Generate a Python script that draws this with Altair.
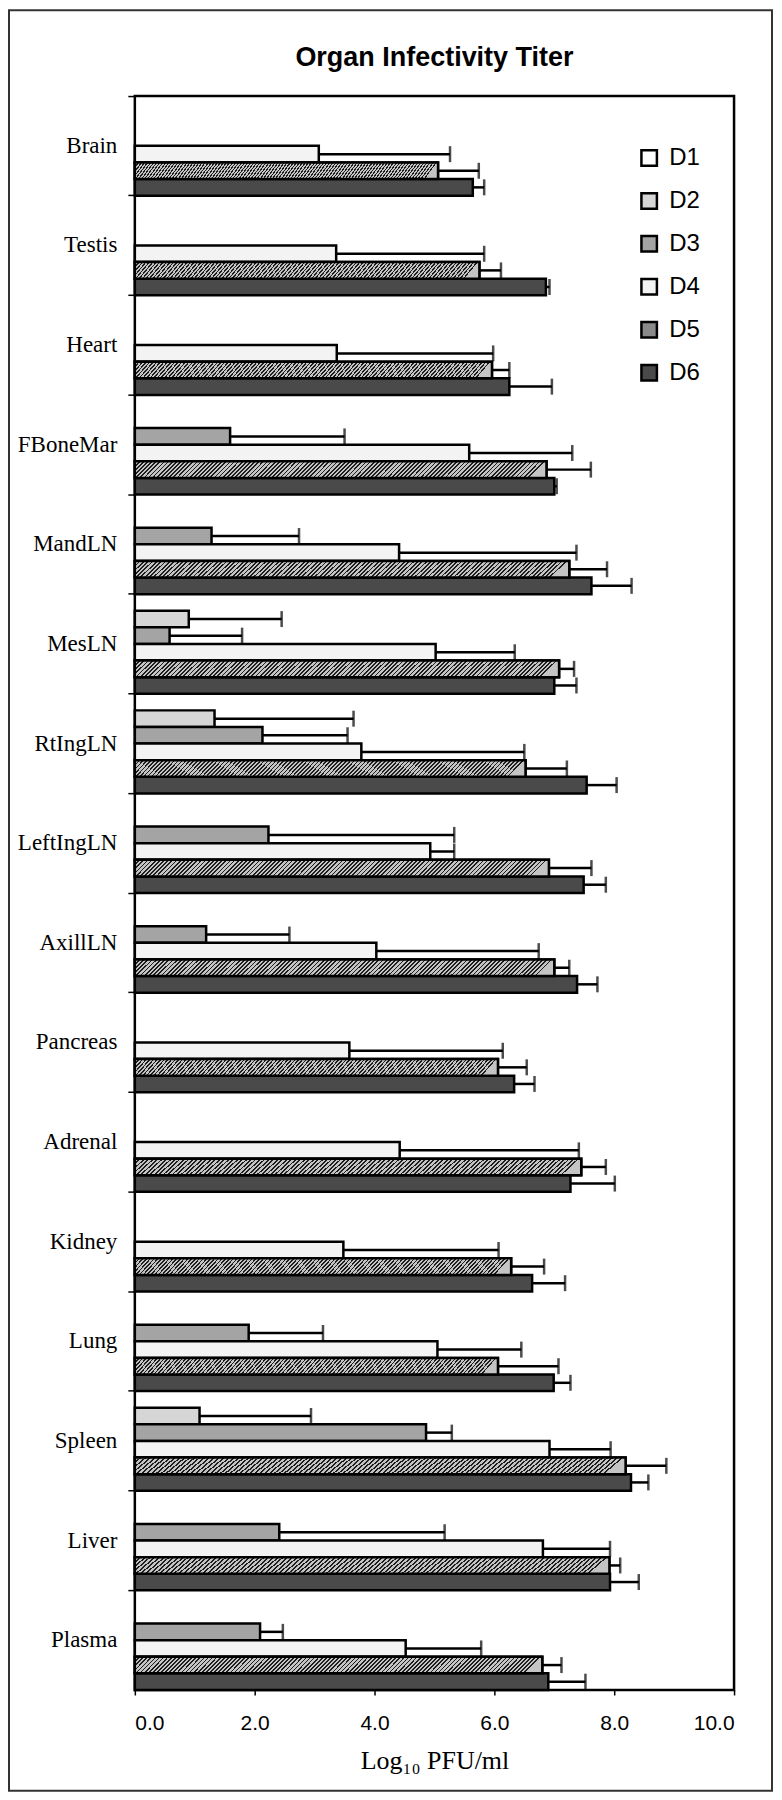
import altair as alt
import pandas as pd

organs = ["Brain", "Testis", "Heart", "FBoneMar", "MandLN", "MesLN", "RtIngLN",
          "LeftIngLN", "AxillLN", "Pancreas", "Adrenal", "Kidney", "Lung",
          "Spleen", "Liver", "Plasma"]
series = ["D1", "D2", "D3", "D4", "D5", "D6"]
x_ticks = [0, 2, 4, 6, 8, 10]

N = None
d1 = [N, N, N, N, N, N, N, N, N, N, N, N, N, N, N, N]
d1_sd = [N, N, N, N, N, N, N, N, N, N, N, N, N, N, N, N]
d2 = [N, N, N, N, N, 0.90, 1.33, N, N, N, N, N, N, 1.08, N, N]
d2_sd = [N, N, N, N, N, 1.55, 2.32, N, N, N, N, N, N, 1.86, N, N]
d3 = [N, N, N, 1.59, 1.28, 0.58, 2.13, 2.23, 1.19, N, N, N, 1.90, 4.86, 2.41, 2.09]
d3_sd = [N, N, N, 1.91, 1.46, 1.21, 1.42, 3.10, 1.39, N, N, N, 1.24, 0.43, 2.76, 0.38]
d4 = [3.07, 3.36, 3.37, 5.58, 4.41, 5.02, 3.78, 4.93, 4.03, 3.58, 4.42, 3.48, 5.05, 6.92, 6.81, 4.52]
d4_sd = [2.19, 2.47, 2.61, 1.72, 2.96, 1.32, 2.72, 0.40, 2.71, 2.56, 2.99, 2.59, 1.40, 1.02, 1.12, 1.26]
d5 = [5.06, 5.75, 5.96, 6.87, 7.25, 7.08, 6.52, 6.91, 7.00, 6.06, 7.45, 6.28, 6.06, 8.19, 7.92, 6.80]
d5_sd = [0.68, 0.36, 0.29, 0.74, 0.63, 0.25, 0.69, 0.71, 0.25, 0.48, 0.41, 0.55, 1.01, 0.68, 0.18, 0.32]
d6 = [5.64, 6.86, 6.25, 7.00, 7.62, 7.00, 7.54, 7.49, 7.38, 6.33, 7.27, 6.63, 6.99, 8.28, 7.93, 6.90]
d6_sd = [0.19, 0.06, 0.71, 0.04, 0.67, 0.37, 0.50, 0.37, 0.34, 0.34, 0.74, 0.55, 0.28, 0.29, 0.48, 0.62]

means = [d1, d2, d3, d4, d5, d6]
sds = [d1_sd, d2_sd, d3_sd, d4_sd, d5_sd, d6_sd]

rows = []
for s, m_list, sd_list in zip(series, means, sds):
    for o, m, sd in zip(organs, m_list, sd_list):
        if m is not None:
            rows.append({"organ": o, "series": s, "value": m, "upper": m + sd})
df = pd.DataFrame(rows)

fills = ["#ffffff", "#d6d6d6", "#a4a4a4", "#f3f3f3", "#8a8a8a", "#4a4a4a"]

W, H = 600, 1596

# diagonal hatch for D5
stops = []
n_stripes = 100
for i in range(n_stripes):
    a = i / n_stripes
    b = (i + 0.42) / n_stripes
    c = (i + 1) / n_stripes
    stops += [alt.GradientStop(color="#1e1e1e", offset=a),
              alt.GradientStop(color="#1e1e1e", offset=b),
              alt.GradientStop(color="#c4c4c4", offset=b),
              alt.GradientStop(color="#c4c4c4", offset=c)]
hatch = alt.LinearGradient(gradient="linear", stops=stops, x1=0, x2=1, y1=0, y2=0.04)

y_enc = alt.Y("organ:N", sort=organs,
              scale=alt.Scale(domain=organs, paddingInner=0, paddingOuter=0),
              axis=alt.Axis(title=None, labelFont="Liberation Serif", labelFontSize=23,
                            labelColor="black", tickColor="black", tickSize=7, tickWidth=1.5,
                            bandPosition=0, labelPadding=11,
                            domain=False, labelLimit=300))
yoff_enc = alt.YOffset("series:N", sort=series,
                       scale=alt.Scale(domain=series, paddingInner=0, paddingOuter=0))
x_enc = alt.X("value:Q", scale=alt.Scale(domain=[0, 10], nice=False),
              axis=alt.Axis(values=x_ticks, format=".1f", title="Log₁₀ PFU/ml",
                            labelFont="Liberation Sans", labelFontSize=21, labelColor="black",
                            tickColor="black", tickSize=5, tickWidth=1.5, labelPadding=18,
                            domain=False, grid=False,
                            titleFont="Liberation Serif", titleFontSize=26,
                            titleFontWeight="normal", titleColor="black", titlePadding=14))

base = alt.Chart(df)

bars = base.mark_bar(stroke="black", strokeWidth=2.5).encode(
    y=y_enc, yOffset=yoff_enc, x=x_enc,
    color=alt.Color("series:N", sort=series,
                    scale=alt.Scale(domain=series, range=fills),
                    legend=alt.Legend(title=None, orient="none", legendX=503, legendY=50,
                                      symbolType="square", symbolSize=240,
                                      symbolStrokeColor="black", symbolStrokeWidth=2.5,
                                      symbolOpacity=1,
                                      labelFont="Liberation Sans", labelFontSize=24,
                                      labelColor="black", labelOffset=8, rowPadding=17,
                                      padding=0)),
)

hatched = base.transform_filter("datum.series == 'D5'").mark_bar(
    fill=hatch, stroke="black", strokeWidth=2.5).encode(
    y=y_enc, yOffset=yoff_enc, x=x_enc)

err = base.mark_rule(color="black", strokeWidth=2.5).encode(
    y=y_enc, yOffset=yoff_enc, x=x_enc, x2="upper:Q")

caps = base.mark_tick(color="black", thickness=2.5, size=16).encode(
    y=y_enc, yOffset=yoff_enc, x=alt.X("upper:Q"))

deco = alt.Chart(pd.DataFrame({"k": [0]}))
frame = deco.mark_rect(fill="transparent", stroke="#333333", strokeWidth=2, clip=False).encode(
    x=alt.value(-126), x2=alt.value(638), y=alt.value(-86), y2=alt.value(1697))
title = deco.mark_text(font="Liberation Sans", fontSize=27, fontWeight="bold",
                       color="black", align="center", baseline="middle").encode(
    x=alt.value(W / 2), y=alt.value(-38), text=alt.value("Organ Infectivity Titer"))

chart = alt.layer(bars, hatched, err, caps, frame, title).properties(
    width=W, height=H,
    autosize=alt.AutoSizeParams(type="none"),
    padding={"left": 127, "top": 87, "right": 40, "bottom": 104},
).configure_view(stroke="black", strokeWidth=2.5)

chart.save("out.html", embed_options={"renderer": "svg", "actions": False})
